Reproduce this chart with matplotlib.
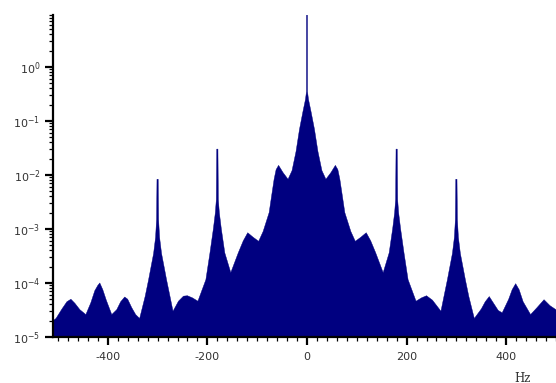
import matplotlib
matplotlib.use("Agg")
import matplotlib.pyplot as plt
from matplotlib.ticker import MultipleLocator, FixedLocator, NullFormatter

plt.rcParams["axes.unicode_minus"] = False

# Spectrum (frequency in Hz, magnitude)
freq = [
    -510, -504, -492, -482, -474, -466, -456, -444, -434, -426, -420, -416, -410, -403,
    -392, -382, -374, -366, -360, -352, -344, -336, -325, -318, -314, -308, -304, -302,
    -301.2, -298.8, -298, -296, -292, -286, -282, -275, -269, -258, -248, -240, -230,
    -219, -203, -195, -188, -184, -182, -181.2, -178.8, -178, -176, -172, -165, -153,
    -138, -128, -119, -108, -97, -88, -76, -71, -66, -62, -57, -48, -38, -30, -22, -15,
    -8, -3, -1, -1, 1, 1, 3, 8, 15, 22, 30, 38, 48, 57, 62, 66, 71, 76, 88, 97, 108,
    119, 128, 138, 153, 165, 172, 176, 178, 178.8, 181.2, 182, 184, 188, 195, 203, 219,
    230, 240, 252, 269, 275, 282, 286, 292, 296, 298, 298.8, 301.2, 302, 304, 308, 314,
    318, 325, 336, 350, 358, 366, 374, 384, 392, 405, 412, 419, 426, 434, 449, 462, 476,
    488, 500,
]
mag = [
    2.0e-5, 2.2e-5, 3.3e-5, 4.5e-5, 5.0e-5, 4.2e-5, 3.2e-5, 2.6e-5, 4.3e-5, 7.2e-5, 9.0e-5, 1.0e-4, 7.5e-5, 4.8e-5,
    2.6e-5, 3.2e-5, 4.5e-5, 5.5e-5, 5.0e-5, 3.5e-5, 2.6e-5, 2.2e-5, 5.6e-5, 1.15e-4, 1.8e-4, 3.5e-4, 7.0e-4, 1.5e-3,
    8.3e-3, 8.3e-3, 1.5e-3, 7.0e-4, 3.5e-4, 1.8e-4, 1.15e-4, 5.6e-5, 3.0e-5, 4.6e-5, 5.7e-5, 5.8e-5, 5.3e-5,
    4.6e-5, 1.15e-4, 3.5e-4, 1.0e-3, 2.0e-3, 3.5e-3, 3.0e-2, 3.0e-2, 3.5e-3, 2.0e-3, 1.0e-3, 3.6e-4, 1.55e-4,
    3.6e-4, 6.0e-4, 8.5e-4, 7.0e-4, 5.9e-4, 9.0e-4, 2.0e-3, 4.1e-3, 8.3e-3, 1.25e-2, 1.5e-2, 1.1e-2, 8.3e-3, 1.2e-2, 2.7e-2, 7.0e-2,
    1.5e-1, 2.5e-1, 3.5e-1, 9.0, 9.0, 3.5e-1, 2.5e-1, 1.5e-1, 7.0e-2, 2.7e-2, 1.2e-2, 8.3e-3, 1.1e-2, 1.5e-2, 1.25e-2, 8.3e-3, 4.1e-3, 2.0e-3, 9.0e-4, 5.9e-4, 7.0e-4,
    8.5e-4, 6.0e-4, 3.6e-4, 1.55e-4, 3.6e-4, 1.0e-3, 2.0e-3, 3.5e-3, 3.0e-2, 3.0e-2, 3.5e-3, 2.0e-3, 1.0e-3, 3.5e-4, 1.15e-4, 4.6e-5,
    5.3e-5, 5.8e-5, 4.8e-5, 3.0e-5, 5.6e-5, 1.15e-4, 1.8e-4, 3.5e-4, 7.0e-4, 1.5e-3, 8.3e-3, 8.3e-3, 1.5e-3, 7.0e-4, 3.5e-4, 1.8e-4,
    1.15e-4, 5.6e-5, 2.2e-5, 3.3e-5, 4.5e-5, 5.6e-5, 4.3e-5, 3.1e-5, 2.8e-5, 5.0e-5, 7.5e-5, 9.7e-5, 7.5e-5, 4.5e-5, 2.6e-5, 3.5e-5, 4.9e-5,
    3.8e-5, 3.2e-5,
]

x_ticks = [-400, -200, 0, 200, 400]
y_ticks = [1e-5, 1e-4, 1e-3, 1e-2, 1e-1, 1e0]
y_tick_labels = [r"$10^{-5}$", r"$10^{-4}$", r"$10^{-3}$", r"$10^{-2}$", r"$10^{-1}$", r"$10^{0}$"]
x_label = "Hz"

fig = plt.figure(figsize=(5.56, 3.83), dpi=100)
ax = fig.add_axes([53 / 556, 46 / 383, 503 / 556, 322 / 383])

ax.fill_between(freq, 1e-7, mag, color="#000080", linewidth=0.3, edgecolor="#000080")

ax.set_yscale("log")
ax.set_xlim(-510, 500)
ax.set_ylim(1e-5, 9.1)

ax.set_xticks(x_ticks)
ax.set_xticklabels([str(v) for v in x_ticks])
ax.xaxis.set_minor_locator(MultipleLocator(20))
ax.set_yticks(y_ticks)
ax.set_yticklabels(y_tick_labels)
minor_y = [m * 10.0 ** e for e in range(-5, 1) for m in range(2, 10)]
ax.yaxis.set_minor_locator(FixedLocator(minor_y))
ax.yaxis.set_minor_formatter(NullFormatter())

for s in ("top", "right"):
    ax.spines[s].set_visible(False)
for s in ("left", "bottom"):
    ax.spines[s].set_linewidth(1.6)
    ax.spines[s].set_color("black")

ax.tick_params(which="major", direction="out", length=6, width=1.6, labelsize=8,
               labelcolor="#333333")
ax.tick_params(axis="x", which="major", pad=5)
ax.tick_params(axis="y", which="major", pad=3)
ax.tick_params(which="minor", direction="out", length=3, width=0.9)

fig.text(523 / 556, 5 / 383, x_label, ha="center", va="center", fontsize=8.5,
         family="DejaVu Serif", color="#333333")

fig.savefig("out.png", dpi=100)
